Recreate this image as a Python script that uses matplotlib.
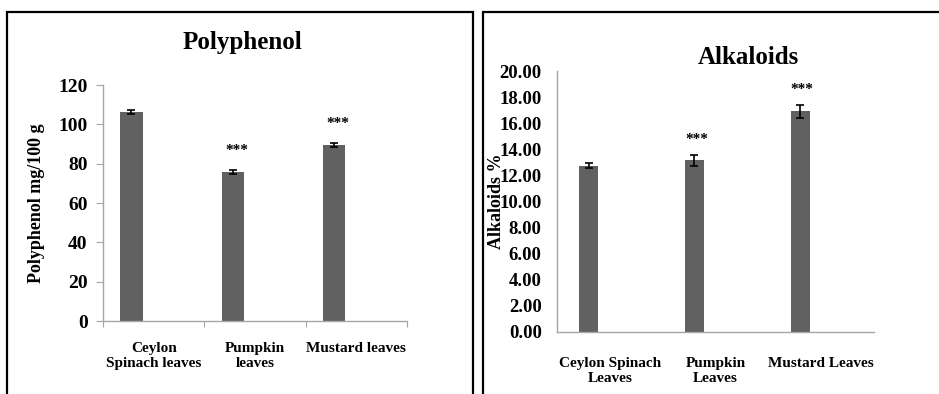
import matplotlib
matplotlib.use("Agg")
import matplotlib.pyplot as plt
from matplotlib.patches import Rectangle
import numpy as np

# polyphenol data (mg/100 g)
poly_labels = ["Ceylon\nSpinach leaves", "Pumpkin\nleaves", "Mustard leaves"]
poly_values = [106.5, 75.8, 89.4]
poly_err = [1.0, 0.9, 0.9]
poly_stars = ["", "***", "***"]

# alkaloid data (%)
alk_labels = ["Ceylon Spinach\nLeaves", "Pumpkin\nLeaves", "Mustard Leaves"]
alk_values = [12.75, 13.15, 16.9]
alk_err = [0.22, 0.42, 0.52]
alk_stars = ["", "***", "***"]

serif = "Liberation Serif"
bar_col = "#616161"
spine_col = "#a6a6a6"

W, H = 939, 394
fig = plt.figure(figsize=(W / 100, H / 100), dpi=100)


def px_axes(x0, x1, ytop, ybot):
    return fig.add_axes([x0 / W, 1 - ybot / H, (x1 - x0) / W, (ybot - ytop) / H])


# panel frames
fig.patches.append(Rectangle((7 / W, -0.05), (473 - 7) / W, 1.05 - 12.5 / H,
                             transform=fig.transFigure, fill=False,
                             edgecolor="black", linewidth=1.6))
fig.patches.append(Rectangle((483 / W, -0.05), (960 - 483) / W, 1.05 - 12.5 / H,
                             transform=fig.transFigure, fill=False,
                             edgecolor="black", linewidth=1.6))


def style_axes(ax):
    for s in ["top", "right"]:
        ax.spines[s].set_visible(False)
    for s in ["left", "bottom"]:
        ax.spines[s].set_color(spine_col)
        ax.spines[s].set_linewidth(1.0)
    for lab in ax.get_yticklabels():
        lab.set_fontfamily(serif)
        lab.set_fontweight("bold")


# ---- Polyphenol ----
ax1 = px_axes(103, 407, 85, 321)
x = np.arange(len(poly_values))
pos1 = x + 0.28
ax1.bar(pos1, poly_values, width=0.22, color=bar_col, zorder=2)
ax1.errorbar(pos1, poly_values, yerr=poly_err, fmt="none", ecolor="black",
             elinewidth=1.2, capsize=3, capthick=1.2, zorder=3)
for p, v, e, s in zip(pos1, poly_values, poly_err, poly_stars):
    if s:
        ax1.text(p + 0.04, v + e + 10, s, ha="center", va="center",
                 fontsize=11, fontweight="bold", family=serif)
ax1.set_xlim(0, 3)
ax1.set_ylim(0, 120)
ax1.set_yticks(np.arange(0, 121, 20))
ax1.set_yticklabels([str(v) for v in range(0, 121, 20)], fontsize=14)
ax1.set_xticks([0, 1, 2, 3])
ax1.set_xticklabels([])
ax1.set_xticks(x + 0.5, minor=True)
ax1.set_xticklabels(poly_labels, minor=True, fontsize=11, fontweight="bold",
                    family=serif, linespacing=1.25)
ax1.tick_params(axis="x", which="major", length=4, color=spine_col)
ax1.tick_params(axis="x", which="minor", length=0, pad=15)
ax1.tick_params(axis="y", length=5, color=spine_col, pad=6)
style_axes(ax1)
ax1.set_ylabel("Polyphenol mg/100 g", fontsize=13, fontweight="bold", family=serif)
ax1.yaxis.set_label_coords(-0.19, 0.5)
fig.text(242 / W, 1 - 43 / H, "Polyphenol", ha="center", va="center",
         fontsize=18, fontweight="bold", family=serif)

# ---- Alkaloids ----
ax2 = px_axes(557, 874, 71, 332)
x2 = np.arange(len(alk_values))
pos2 = x2 + 0.30
ax2.bar(pos2, alk_values, width=0.18, color=bar_col, zorder=2)
ax2.errorbar(pos2, alk_values, yerr=alk_err, fmt="none", ecolor="black",
             elinewidth=1.2, capsize=3, capthick=1.2, zorder=3)
for p, v, e, s in zip(pos2, alk_values, alk_err, alk_stars):
    if s:
        ax2.text(p + 0.02, v + e + 1.2, s, ha="center", va="center",
                 fontsize=11, fontweight="bold", family=serif)
ax2.set_xlim(0, 3)
ax2.set_ylim(0, 20)
ax2.set_yticks(np.arange(0, 20.1, 2))
ax2.set_yticklabels([f"{v:.2f}" for v in np.arange(0, 20.1, 2)], fontsize=13.5)
ax2.set_xticks(x2 + 0.5)
ax2.set_xticklabels(alk_labels, fontsize=11, fontweight="bold",
                    family=serif, linespacing=1.25)
ax2.tick_params(axis="x", length=0, pad=18)
ax2.tick_params(axis="y", length=0, pad=11)
style_axes(ax2)
ax2.set_ylabel("Alkaloids %", fontsize=13, fontweight="bold", family=serif)
ax2.yaxis.set_label_coords(-0.164, 0.5)
fig.text(748 / W, 1 - 58 / H, "Alkaloids", ha="center", va="center",
         fontsize=18, fontweight="bold", family=serif)

fig.savefig("out.png", dpi=100, facecolor="white")
